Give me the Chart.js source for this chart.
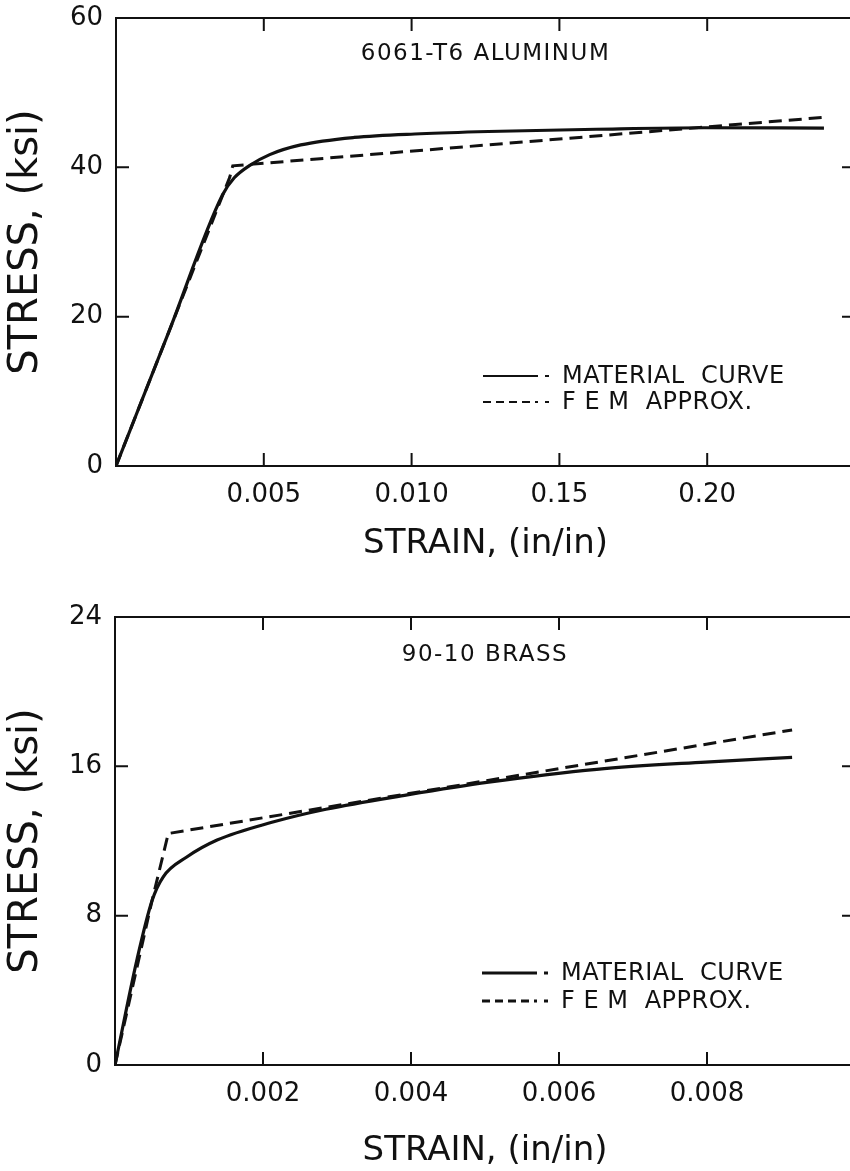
<!DOCTYPE html>
<html>
<head>
<meta charset="utf-8">
<title>Stress-strain curves</title>
<script src="https://cdn.jsdelivr.net/npm/chart.js@4.4.1/dist/chart.umd.min.js"></script>
<style>
  html, body { margin: 0; padding: 0; background: #fff; width: 850px; height: 1171px; overflow: hidden; }
  canvas { position: absolute; left: 0; }
  #alum  { top: 0; }
  #brass { top: 600px; }
</style>
</head>
<body>
<canvas id="alum" width="900" height="600"></canvas>
<canvas id="brass" width="900" height="580"></canvas>
<script>
// ── Data ───────────────────────────────────────────────────────────────────
// 6061-T6: the strain axis is broken (0.005, 0.010, then 0.15, 0.20),
// so x is the position along the axis, one unit per tick.
const alumTickLabels = ['', '0.005', '0.010', '0.15', '0.20', ''];
const alumMaterialX  = [0, 0.36, 0.72, 0.80, 0.90, 1.04, 1.25, 1.61, 2.06, 2.52, 3.25, 3.98, 4.79];
const alumMaterialY  = [0, 18.1, 36.3, 38.6, 40.2, 41.7, 43.0, 44.0, 44.5, 44.8, 45.1, 45.3, 45.25];
const alumFemX       = [0, 0.77, 0.79, 4.79];
const alumFemY       = [0, 38.7, 40.2, 46.7];

// 90-10 brass: plain linear strain axis
const brassTickLabels = ['', '0.002', '0.004', '0.006', '0.008', ''];
const brassMaterialX  = [0, 0.0003, 0.0005, 0.00065, 0.00097, 0.00138, 0.00212, 0.00285, 0.00395, 0.00505, 0.00651, 0.00798, 0.00915];
const brassMaterialY  = [0, 5.7, 8.8, 10.07, 11.14, 12.05, 13.0, 13.7, 14.47, 15.15, 15.84, 16.23, 16.48];
const brassFemX       = [0, 0.0005, 0.00072, 0.00915];
const brassFemY       = [0, 8.8, 12.4, 17.95];

const INK  = '#111';
const FONT = 'DejaVu Sans';

const pts = (xs, ys) => xs.map((x, i) => ({ x, y: ys[i] }));

// ── Frame, inward ticks, in-plot title and legend ─────────────────────────
const framePlugin = {
  id: 'frame',
  afterDraw(chart, args, o) {
    const { ctx, chartArea: a, scales: { x, y } } = chart;
    ctx.save();
    ctx.strokeStyle = INK;
    ctx.lineWidth = 2;
    ctx.strokeRect(a.left, a.top, a.right - a.left, a.bottom - a.top);

    const len = 13;
    ctx.beginPath();
    x.ticks.forEach((t, i) => {
      if (i === 0 || i === x.ticks.length - 1) return;
      const px = x.getPixelForValue(t.value);
      ctx.moveTo(px, a.bottom); ctx.lineTo(px, a.bottom - len);
      ctx.moveTo(px, a.top);    ctx.lineTo(px, a.top + len);
    });
    y.ticks.forEach((t, i) => {
      if (i === 0 || i === y.ticks.length - 1) return;
      const py = y.getPixelForValue(t.value);
      ctx.moveTo(a.left, py);  ctx.lineTo(a.left + len, py);
      ctx.moveTo(a.right, py); ctx.lineTo(a.right - len, py);
    });
    ctx.stroke();

    // title inside the plot
    ctx.fillStyle = INK;
    ctx.font = `23px "${FONT}"`;
    ctx.letterSpacing = '1.5px';
    ctx.textAlign = 'center';
    ctx.textBaseline = 'middle';
    ctx.fillText(o.title, (a.left + a.right) / 2, a.top + o.titleDy);

    // legend
    ctx.font = `24px "${FONT}"`;
    ctx.letterSpacing = '0.5px';
    ctx.textAlign = 'left';
    const x0 = a.left + o.legendDx;
    chart.data.datasets.forEach((ds, i) => {
      const ly = a.top + o.legendDy + i * o.legendGap;
      ctx.lineWidth = o.legendLineWidth;
      ctx.setLineDash(ds.borderDash && ds.borderDash.length ? [8, 5] : []);
      ctx.beginPath();
      ctx.moveTo(x0, ly); ctx.lineTo(x0 + 55, ly);
      ctx.stroke();
      ctx.setLineDash([]);
      ctx.beginPath();
      ctx.moveTo(x0 + 62, ly); ctx.lineTo(x0 + 66, ly);
      ctx.stroke();
      ctx.fillText(ds.label, x0 + 79, ly + 1);
    });
    ctx.restore();
  },
};

function makeChart(id, cfg) {
  return new Chart(document.getElementById(id), {
    type: 'line',
    data: {
      datasets: [
        { label: 'MATERIAL  CURVE', data: cfg.material, borderColor: INK, borderWidth: 3.2,
          pointRadius: 0, cubicInterpolationMode: 'monotone', fill: false },
        { label: 'F E M  APPROX.', data: cfg.fem, borderColor: INK, borderWidth: 3,
          borderDash: [13, 7], pointRadius: 0, tension: 0, fill: false },
      ],
    },
    options: {
      responsive: false,
      animation: false,
      layout: { padding: { top: cfg.padTop, right: 45, bottom: 0, left: 0 } },
      plugins: {
        legend: { display: false },
        tooltip: { enabled: false },
        frame: cfg.frame,
      },
      scales: {
        x: {
          type: 'linear', min: 0, max: cfg.xMax,
          grid: { display: false, drawTicks: false }, border: { display: false },
          ticks: {
            stepSize: cfg.xStep, padding: 14, color: INK, autoSkip: false, maxRotation: 0,
            font: { family: FONT, size: 26 },
            callback: (v, i) => cfg.xLabels[i],
          },
          title: { display: true, text: 'STRAIN, (in/in)', color: INK,
                   font: { family: FONT, size: 34 }, padding: { top: 0, bottom: cfg.xTitlePad } },
          afterFit: s => { s.height = cfg.xHeight; s.paddingLeft = 0; s.paddingRight = 0; },
        },
        y: {
          min: 0, max: cfg.yMax,
          grid: { display: false, drawTicks: false }, border: { display: false },
          ticks: { stepSize: cfg.yStep, padding: 13, color: INK, font: { family: FONT, size: 26 } },
          title: { display: true, text: 'STRESS, (ksi)', color: INK,
                   font: { family: FONT, size: 40 }, padding: { top: 3, bottom: 0 } },
          afterFit: s => { s.width = cfg.yWidth; s.paddingTop = 0; s.paddingBottom = 0; },
        },
      },
    },
    plugins: [framePlugin],
  });
}

makeChart('alum', {
  material: pts(alumMaterialX, alumMaterialY),
  fem: pts(alumFemX, alumFemY),
  xMax: 5, xStep: 1, xLabels: alumTickLabels,
  yMax: 60, yStep: 20,
  padTop: 18, yWidth: 116, xHeight: 134, xTitlePad: 35,
  frame: { title: '6061-T6 ALUMINUM', titleDy: 36, legendDx: 367, legendDy: 358,
           legendGap: 26, legendLineWidth: 2 },
});

makeChart('brass', {
  material: pts(brassMaterialX, brassMaterialY),
  fem: pts(brassFemX, brassFemY),
  xMax: 0.010, xStep: 0.002, xLabels: brassTickLabels,
  yMax: 24, yStep: 8,
  padTop: 17, yWidth: 115, xHeight: 115, xTitlePad: 8,
  frame: { title: '90-10 BRASS', titleDy: 38, legendDx: 367, legendDy: 356,
           legendGap: 28, legendLineWidth: 3 },
});
</script>
</body>
</html>
